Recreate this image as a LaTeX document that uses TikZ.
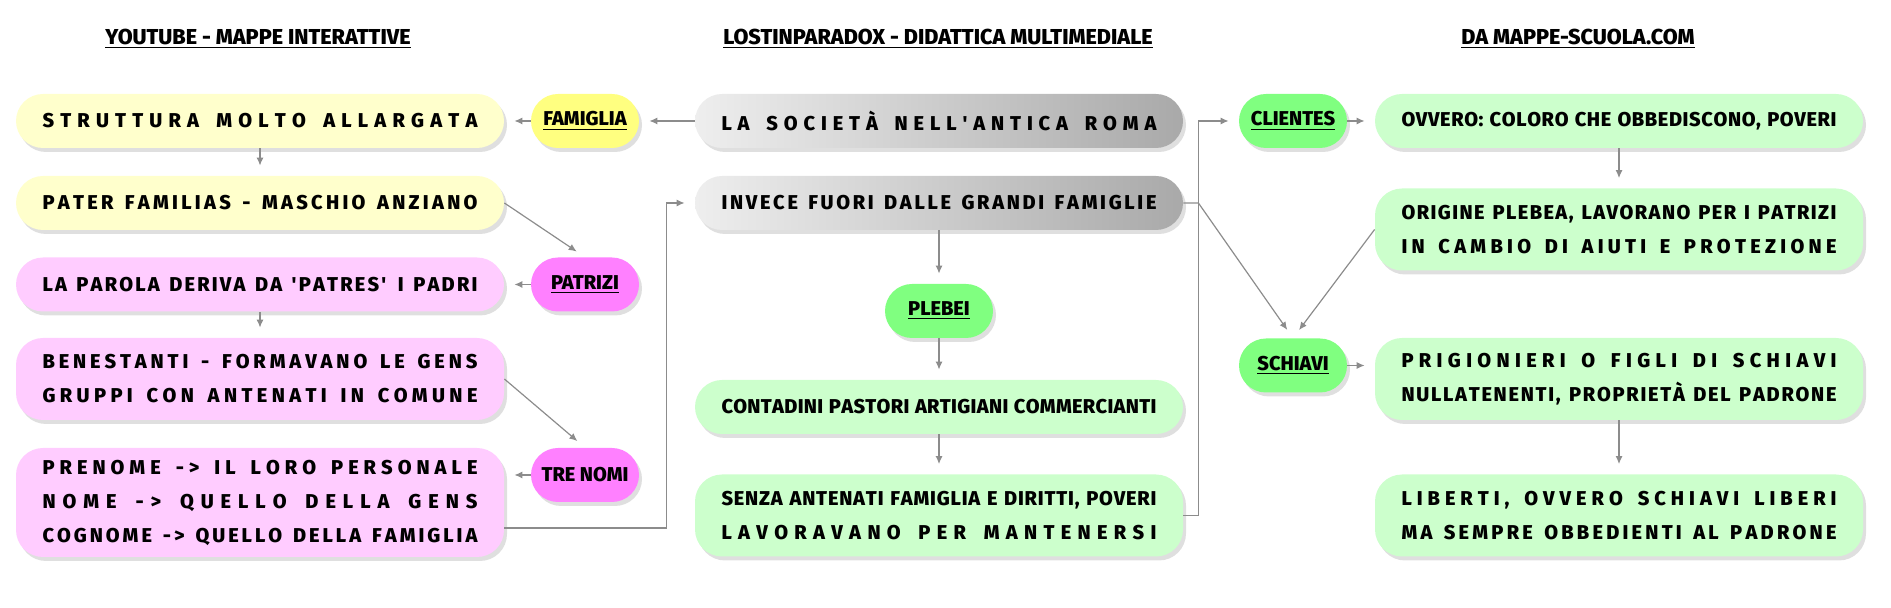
\documentclass[tikz,border=0pt]{standalone}
\usepackage{fontspec}
\setmainfont{Fira Sans}[BoldFont={Fira Sans ExtraBold}]
\usetikzlibrary{arrows.meta,shadows}

\definecolor{yellowbox}{HTML}{FFFFCC}
\definecolor{yellownode}{HTML}{FFFF80}
\definecolor{pinkbox}{HTML}{FFCCFF}
\definecolor{pinknode}{HTML}{FF80FF}
\definecolor{greenbox}{HTML}{CCFFCC}
\definecolor{greennode}{HTML}{80FF80}
\definecolor{graylight}{HTML}{EEEEEE}
\definecolor{graydark}{HTML}{A9A9A9}
\definecolor{linkgray}{HTML}{8C8C8C}

% spread one line of text over the width of a box
\ExplSyntaxOn
\seq_new:N \l__spr_seq
\tl_new:N \l__spr_tl
\box_new:N \l__spr_box
\skip_new:N \l__spr_skip
\dim_new:N \spreadwd
\dim_set:Nn \spreadwd { 217.5pt }
\NewDocumentCommand \spread { m }
  {
    \skip_set:Nn \l__spr_skip { .25em plus 1fil }
    \tl_clear:N \l__spr_tl
    \seq_set_split:Nnn \l__spr_seq { ~ } { #1 }
    \seq_map_inline:Nn \l__spr_seq
      {
        \tl_map_inline:nn { ##1 }
          { \tl_put_right:Nn \l__spr_tl { ####1 \hfil } }
        \tl_put_right:Nn \l__spr_tl { \skip_horizontal:N \l__spr_skip }
      }
    \hbox_set:Nn \l__spr_box { \l__spr_tl \unskip \unskip }
    \dim_compare:nNnTF { \box_wd:N \l__spr_box } < { \spreadwd }
      { \hbox_to_wd:nn { \spreadwd } { \l__spr_tl \unskip \unskip } }
      { \box_use:N \l__spr_box }
  }
\ExplSyntaxOff

\begin{document}
\begin{tikzpicture}[x=0.5pt,y=-0.5pt,
    font=\fontsize{10}{17}\selectfont\bfseries,
    title/.style={font=\fontsize{10.8}{13}\selectfont\bfseries},
    box/.style={rounded corners=13.5pt,minimum width=244pt,minimum height=27pt,
      inner sep=0pt,align=center,
      drop shadow={shadow xshift=1.5pt,shadow yshift=-2pt,opacity=.25}},
    pill/.style={box,minimum width=54pt},
    greybox/.style={box,left color=graylight,right color=graydark},
    link/.style={draw=linkgray,line width=.6pt,-{Latex[length=4pt,width=3.5pt]},shorten >=5pt}]
  \useasboundingbox (0,0) rectangle (1891,608);

  % titles
  \node[title] (tyoutube) at (258,39) {\underline{YOUTUBE - MAPPE INTERATTIVE}};
  \node[title] (tlost) at (938,39) {\underline{LOSTINPARADOX - DIDATTICA MULTIMEDIALE}};
  \node[title] (tmappe) at (1578,39) {\underline{DA MAPPE-SCUOLA.COM}};

  % left column
  \node[box,fill=yellowbox] (struttura) at (260,121) {\spread{STRUTTURA MOLTO ALLARGATA}};
  \node[box,fill=yellowbox] (pater) at (260,203) {\spread{PATER FAMILIAS - MASCHIO ANZIANO}};
  \node[box,fill=pinkbox] (parola) at (260,284.5) {\spread{LA PAROLA DERIVA DA \textquotesingle PATRES\textquotesingle{} I PADRI}};
  \node[box,fill=pinkbox,minimum height=41pt] (benestanti) at (260,379)
    {\spread{BENESTANTI - FORMAVANO LE GENS}\\ \spread{GRUPPI CON ANTENATI IN COMUNE}};
  \node[box,fill=pinkbox,minimum height=54.5pt] (prenome) at (260,502.5)
    {\spread{PRENOME -> IL LORO PERSONALE}\\ \spread{NOME -> QUELLO DELLA GENS}\\
     \spread{COGNOME -> QUELLO DELLA FAMIGLIA}};
  \node[pill,fill=yellownode] (famiglia) at (585,121) {\underline{FAMIGLIA}};
  \node[pill,fill=pinknode] (patrizi) at (585,284.5) {\underline{PATRIZI}};
  \node[pill,fill=pinknode] (trenomi) at (585,475) {TRE NOMI};

  % middle column
  \node[greybox] (societa) at (939,121) {\spread{LA SOCIETÀ NELL\textquotesingle ANTICA ROMA}};
  \node[greybox] (invece) at (939,203) {\spread{INVECE FUORI DALLE GRANDI FAMIGLIE}};
  \node[pill,fill=greennode] (plebei) at (939,311) {\underline{PLEBEI}};
  \node[box,fill=greenbox] (contadini) at (939,407) {\spread{CONTADINI PASTORI ARTIGIANI COMMERCIANTI}};
  \node[box,fill=greenbox,minimum height=41pt] (senza) at (939,515.5)
    {\spread{SENZA ANTENATI FAMIGLIA E DIRITTI, POVERI}\\ \spread{LAVORAVANO PER MANTENERSI}};

  % right column
  \node[pill,fill=greennode] (clientes) at (1293,121) {\underline{CLIENTES}};
  \node[pill,fill=greennode] (schiavi) at (1293,365.5) {\underline{SCHIAVI}};
  \node[box,fill=greenbox] (ovvero) at (1619,121) {\spread{OVVERO: COLORO CHE OBBEDISCONO, POVERI}};
  \node[box,fill=greenbox,minimum height=41pt] (origine) at (1619,229.5)
    {\spread{ORIGINE PLEBEA, LAVORANO PER I PATRIZI}\\ \spread{IN CAMBIO DI AIUTI E PROTEZIONE}};
  \node[box,fill=greenbox,minimum height=41pt] (prigionieri) at (1619,379)
    {\spread{PRIGIONIERI O FIGLI DI SCHIAVI}\\ \spread{NULLATENENTI, PROPRIETÀ DEL PADRONE}};
  \node[box,fill=greenbox,minimum height=41pt] (liberti) at (1619,515.5)
    {\spread{LIBERTI, OVVERO SCHIAVI LIBERI}\\ \spread{MA SEMPRE OBBEDIENTI AL PADRONE}};

  % connectors
  \draw[link] (societa.west) -- (famiglia.east);
  \draw[link] (famiglia.west) -- (struttura.east);
  \draw[link] (struttura.south) -- (pater.north);
  \draw[link] (pater.east) -- (patrizi.north);
  \draw[link] (patrizi.west) -- (parola.east);
  \draw[link] (parola.south) -- (benestanti.north);
  \draw[link] (benestanti.east) -- (trenomi.north);
  \draw[link] (trenomi.west) -- (trenomi.west -| prenome.east);
  \draw[link] ([yshift=-12.75pt]prenome.east) -| ([xshift=-14pt]invece.west) -- (invece.west);
  \draw[link] (invece.south) -- (plebei.north);
  \draw[link] (plebei.south) -- (contadini.north);
  \draw[link] (contadini.south) -- (senza.north);
  \draw[link] (senza.east) -- ++(15,0) |- (clientes.west);
  \draw[link] (invece.east) -- ++(15,0) -- (schiavi.north);
  \draw[link] (clientes.east) -- (ovvero.west);
  \draw[link] (ovvero.south) -- (origine.north);
  \draw[link] (origine.west) -- (schiavi.north);
  \draw[link] (schiavi.east) -- (schiavi.east -| prigionieri.west);
  \draw[link] (prigionieri.south) -- (liberti.north);
\end{tikzpicture}
\end{document}
